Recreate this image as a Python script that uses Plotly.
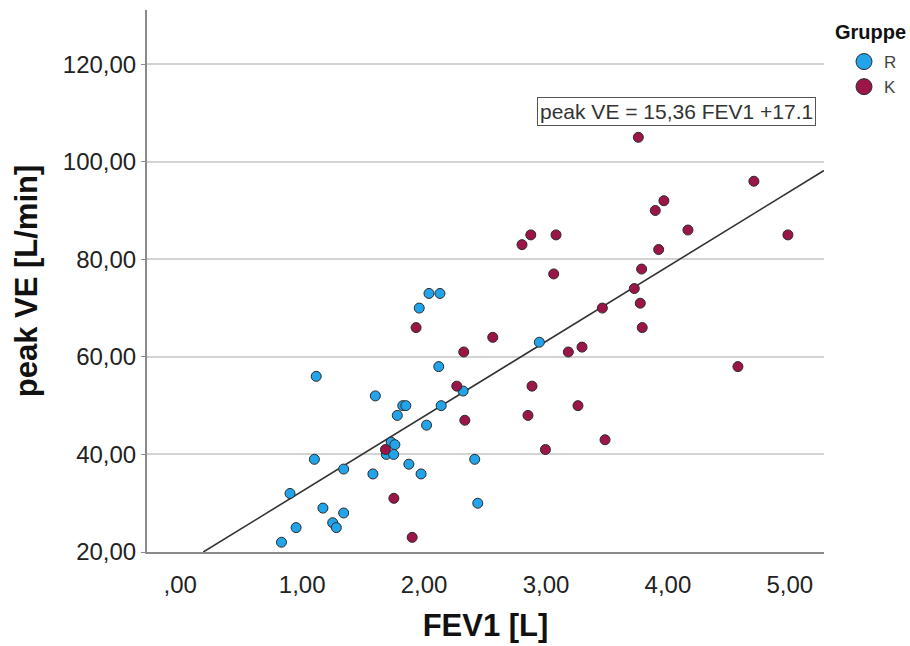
import plotly.graph_objects as go

# Group R (blue)
r_fev1 = [1.115, 1.60, 1.10, 1.34, 1.58, 0.90, 1.17, 1.34, 1.25, 1.28, 0.95, 0.83,
          2.04, 2.13, 1.96, 2.945, 2.12, 2.32, 1.825, 1.85, 2.14, 1.78, 2.02,
          1.73, 1.76, 1.69, 1.75, 2.415, 1.875, 1.975, 2.44]
r_ve = [56, 52, 39, 37, 36, 32, 29, 28, 26, 25, 25, 22,
        73, 73, 70, 63, 58, 53, 50, 50, 50, 48, 46,
        42.5, 42, 40, 40, 39, 38, 36, 30]

# Group K (crimson)
k_fev1 = [3.757, 4.705, 3.967, 3.896, 4.164, 4.984, 2.875, 3.082, 2.803, 3.924,
          3.784, 3.063, 3.724, 3.773, 3.462, 3.789, 1.934, 2.563, 3.295, 2.325,
          3.183, 4.574, 2.268, 2.885, 3.262, 2.852, 2.334, 3.484, 1.683, 2.995,
          1.752, 1.902]
k_ve = [105, 96, 92, 90, 86, 85, 85, 85, 83, 82,
        78, 77, 74, 71, 70, 66, 66, 64, 62, 61,
        61, 58, 54, 54, 50, 48, 47, 43, 41, 41,
        31, 23]

group_names = ["R", "K"]
slope = 15.36
intercept = 17.1

x_ticks = [0, 1, 2, 3, 4, 5]
x_ticktext = [",00", "1,00", "2,00", "3,00", "4,00", "5,00"]
y_ticks = [20, 40, 60, 80, 100, 120]
y_ticktext = ["20,00", "40,00", "60,00", "80,00", "100,00", "120,00"]

x_range = [-0.273, 5.28]
y_range = [20, 131.1]

blue = "#22a4ea"
crimson = "#9c1549"
edge = "#2b2b2b"
font_family = "Liberation Sans, Arial, sans-serif"

W, H = 910, 646
ML, MR, MT, MB = 147, 86, 10, 94
PW, PH = W - ML - MR, H - MT - MB

fig = go.Figure()

# regression line
x0 = (y_range[0] - intercept) / slope
x1 = x_range[1]
fig.add_trace(go.Scatter(
    x=[x0, x1], y=[slope * x0 + intercept, slope * x1 + intercept],
    mode="lines", line=dict(color="#333333", width=1.6),
    showlegend=False, hoverinfo="skip"))

fig.add_trace(go.Scatter(
    x=r_fev1, y=r_ve, mode="markers", name=group_names[0], legendgroup="R",
    showlegend=False,
    marker=dict(color=blue, size=10, line=dict(color=edge, width=1))))
fig.add_trace(go.Scatter(
    x=k_fev1, y=k_ve, mode="markers", name=group_names[1], legendgroup="K",
    showlegend=False,
    marker=dict(color=crimson, size=10, line=dict(color=edge, width=1))))

# legend entries (larger symbols as in the reference legend)
for name, col in zip(group_names, [blue, crimson]):
    fig.add_trace(go.Scatter(
        x=[None], y=[None], mode="markers", name=name, legendgroup=name,
        marker=dict(color=col, size=16, line=dict(color=edge, width=1))))

fig.update_layout(
    width=W, height=H,
    margin=dict(l=ML, r=MR, t=MT, b=MB, autoexpand=False),
    paper_bgcolor="white", plot_bgcolor="white",
    font=dict(family=font_family, color="#222222"),
    xaxis=dict(
        range=x_range, tickvals=x_ticks, ticktext=x_ticktext,
        showgrid=False, zeroline=False, automargin=False,
        showline=True, linecolor="#8a8a8a", linewidth=2,
        ticks="", tickfont=dict(size=24, color="#222222"),
        ticklabelstandoff=10,
        title=dict(text="<b>FEV1 [L]</b>", font=dict(size=31, color="#111111"), standoff=18),
    ),
    yaxis=dict(
        range=y_range, tickvals=y_ticks, ticktext=y_ticktext,
        showgrid=True, gridcolor="#d3d3d3", gridwidth=2, zeroline=False, automargin=False,
        showline=True, linecolor="#8a8a8a", linewidth=2,
        ticks="outside", ticklen=4, tickcolor="#8a8a8a",
        tickfont=dict(size=24, color="#222222"),
        title=dict(text="<b>peak VE [L/min]</b>", font=dict(size=31, color="#111111"), standoff=16),
    ),
    legend=dict(
        x=844 / W, xref="container", xanchor="left",
        y=1 - 44 / H, yref="container", yanchor="top",
        font=dict(size=17, color="#444444"),
        itemsizing="trace", tracegroupgap=0, itemwidth=30,
        bgcolor="rgba(0,0,0,0)",
    ),
    annotations=[
        dict(
            x=4.07, y=110.2, xref="x", yref="y",
            text="peak VE = 15,36 FEV1 +17.1", showarrow=False,
            font=dict(size=21, color="#333333", family=font_family),
            bordercolor="#555555", borderwidth=1, borderpad=2, bgcolor="white",
        ),
        dict(
            x=(870 - ML) / PW, y=(H - MB - 32) / PH, xref="paper", yref="paper",
            xanchor="center", yanchor="middle",
            text="<b>Gruppe</b>", showarrow=False,
            font=dict(size=20, color="#111111", family=font_family),
        ),
    ],
)

fig.write_html("out.html")
